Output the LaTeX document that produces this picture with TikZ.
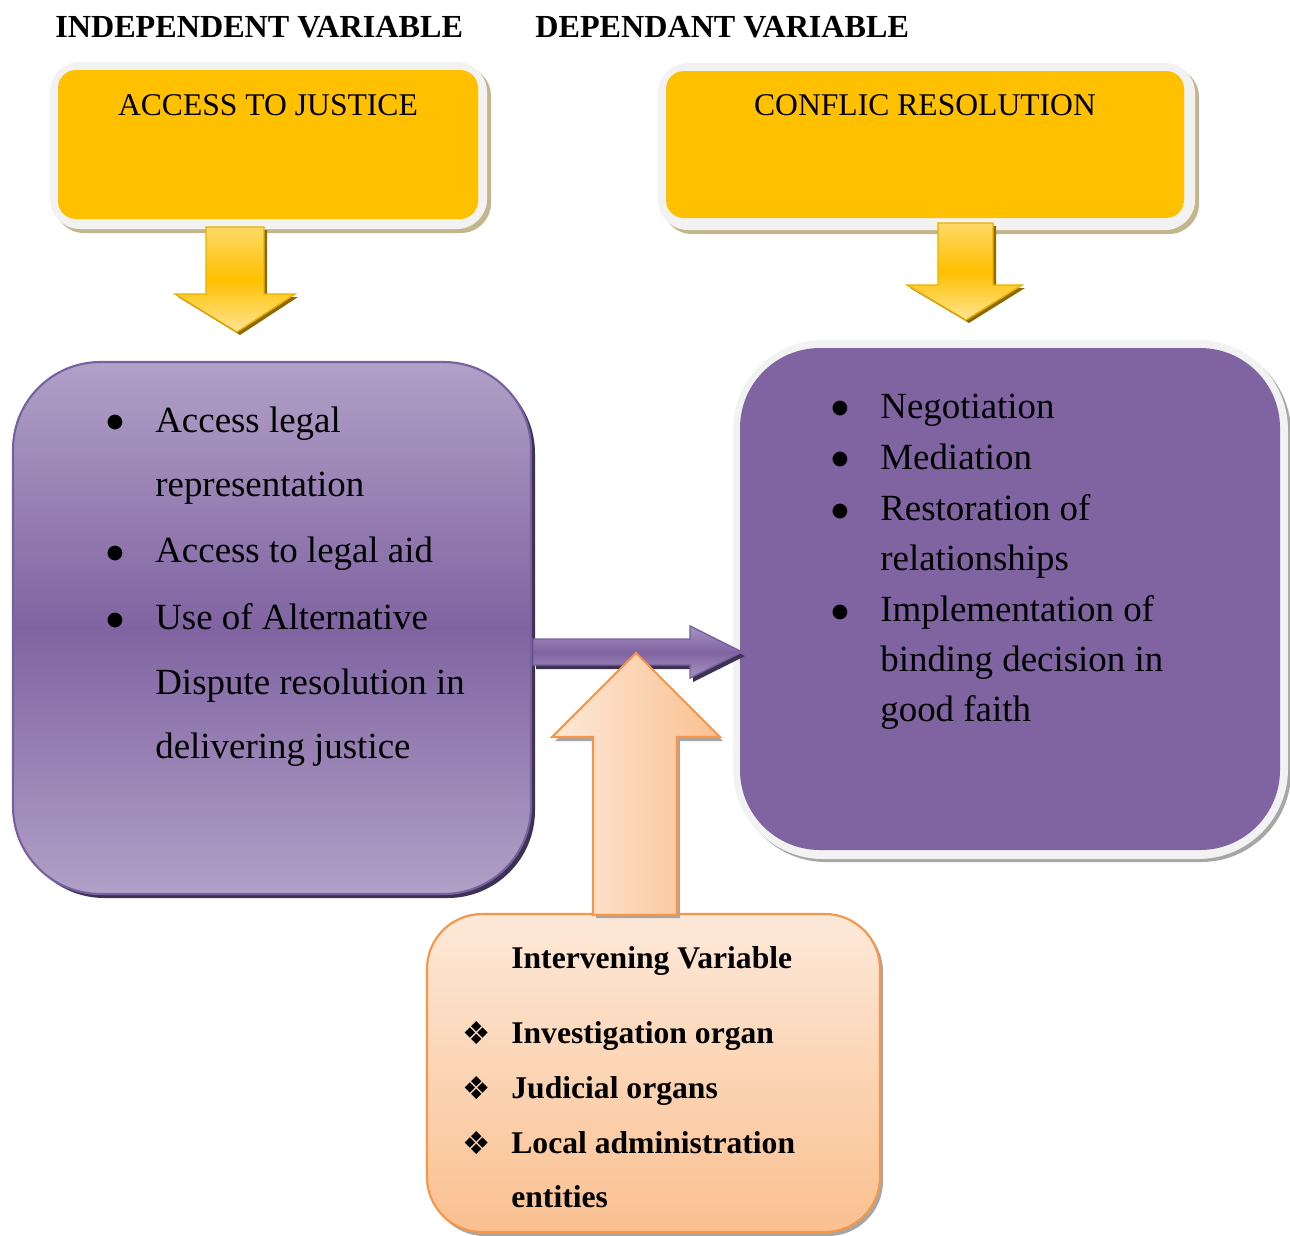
\documentclass[tikz,border=0pt]{standalone}
\usepackage{fontspec}
\setmainfont{Liberation Serif}
\newfontfamily\symfont{DejaVu Sans}
\usetikzlibrary{fit}
\definecolor{ybox}{HTML}{FFC000}
\definecolor{ylight}{HTML}{FFD966}
\definecolor{yedge}{HTML}{E8B000}
\definecolor{yshadow}{HTML}{8C6A00}
\definecolor{frame}{HTML}{F2F2F2}
\definecolor{tan}{HTML}{C4B68C}
\definecolor{purp}{HTML}{8064A2}
\definecolor{lpurp}{HTML}{B1A0C7}
\definecolor{purpedge}{HTML}{7560A0}
\definecolor{dpurp}{HTML}{3F3151}
\definecolor{peachl}{HTML}{FDE9D9}
\definecolor{peachd}{HTML}{FAC090}
\definecolor{orng}{HTML}{F79646}
\definecolor{gshadow}{HTML}{A6A6A6}
\begin{document}
\begin{tikzpicture}[x=0.02cm,y=-0.02cm,
  box/.style={inner sep=0pt,outer sep=0pt},
  title/.style={font=\fontsize{18.3}{21}\selectfont\bfseries,anchor=base west,inner sep=0pt},
  ylabel/.style={font=\fontsize{18}{21}\selectfont,anchor=base,inner sep=0pt},
  ptext/.style={font=\fontsize{21}{25}\selectfont,anchor=base west,inner sep=0pt},
  pbul/.style={font=\symfont\fontsize{11}{13}\selectfont,anchor=base,inner sep=0pt},
  itext/.style={font=\fontsize{18}{21}\selectfont\bfseries,anchor=base west,inner sep=0pt},
  ibul/.style={font=\symfont\fontsize{18}{21}\selectfont,anchor=base,inner sep=0pt},
  yarrow/.style={top color=ylight,bottom color=ylight!70!white,middle color=ybox,draw=yedge,line width=0.8pt},
]
\useasboundingbox (0,0) rectangle (1290,1235);

% titles
\node[title] (tind) at (55,37) {INDEPENDENT VARIABLE};
\node[title] (tdep) at (535,37) {DEPENDANT VARIABLE};

% top-left yellow box
\node[box,fit={(54,66)(491,233)},fill=tan,rounded corners=0.6cm] (ajsh) {};
\node[box,fit={(50,62)(487,229)},fill=frame,rounded corners=0.6cm] (ajout) {};
\node[box,fit={(58,70)(478,219)},fill=ybox,rounded corners=0.36cm] (aj) {};
\node[ylabel] (ajl) at (268,115) {ACCESS TO JUSTICE};

% top-right yellow box
\node[box,fit={(662,67)(1199,234)},fill=tan,rounded corners=0.6cm] (crsh) {};
\node[box,fit={(658,63)(1195,230)},fill=frame,rounded corners=0.6cm] (crout) {};
\node[box,fit={(666,71)(1184,218)},fill=ybox,rounded corners=0.36cm] (cr) {};
\node[ylabel] (crl) at (925,115) {CONFLIC RESOLUTION};

% yellow down arrows
\fill[yshadow] (209,230) -- (267,230) -- (267,297) -- (298,297) -- (240,335) -- (178,297) -- (209,297) -- cycle;
\path[yarrow] (206,227) -- (264,227) -- (264,294) -- (295,294) -- (237,332) -- (175,294) -- (206,294) -- cycle;
\fill[yshadow] (941,226) -- (996,226) -- (996,288) -- (1025,288) -- (969,323) -- (910,288) -- (941,288) -- cycle;
\path[yarrow] (938,223) -- (993,223) -- (993,285) -- (1022,285) -- (966,320) -- (907,285) -- (938,285) -- cycle;

% left purple box
\node[box,fit={(17,366)(535,898)},fill=dpurp,rounded corners=1.75cm] (ajbsh) {};
\node[box,fit={(13,362)(531,894)},top color=lpurp,bottom color=lpurp,middle color=purp,draw=purpedge,line width=1.2pt,rounded corners=1.75cm] (ajb) {};
\node[pbul] (lb1) at (115,427) {●};
\node[ptext] (l1) at (155,432) {Access legal};
\node[ptext] (l2) at (155,496) {representation};
\node[pbul] (lb2) at (115,558) {●};
\node[ptext] (l3) at (155,562) {Access to legal aid};
\node[pbul] (lb3) at (115,625) {●};
\node[ptext] (l4) at (155,629) {Use of Alternative};
\node[ptext] (l5) at (155,694) {Dispute resolution in};
\node[ptext] (l6) at (155,758) {delivering justice};

% right purple box
\node[box,fit={(736,343)(1291,862)},fill=gshadow,rounded corners=1.8cm] (crbsh) {};
\node[box,fit={(733,340)(1288,859)},fill=frame,rounded corners=1.8cm] (crbout) {};
\node[box,fit={(740,348)(1280,850)},fill=purp,rounded corners=1.6cm] (crb) {};
\node[pbul] (rb1) at (840,413) {●};
\node[ptext] (r1) at (880,418) {Negotiation};
\node[pbul] (rb2) at (840,464) {●};
\node[ptext] (r2) at (880,469) {Mediation};
\node[pbul] (rb3) at (840,516) {●};
\node[ptext] (r3) at (880,520) {Restoration of};
\node[ptext] (r4) at (880,570) {relationships};
\node[pbul] (rb4) at (840,617) {●};
\node[ptext] (r5) at (880,621) {Implementation of};
\node[ptext] (r6) at (880,671) {binding decision in};
\node[ptext] (r7) at (880,721) {good faith};

% purple horizontal arrow
\fill[dpurp] (536,643) -- (693,643) -- (693,630) -- (745,656) -- (693,682) -- (693,669) -- (536,669) -- cycle;
\path[top color=lpurp!80!purp,bottom color=lpurp!80!purp,middle color=purp,draw=purpedge,line width=0.8pt]
  (533,639) -- (690,639) -- (690,626) -- (742,652) -- (690,678) -- (690,665) -- (533,665) -- cycle;

% bottom box
\node[box,fit={(430,917)(883,1236)},fill=gshadow,rounded corners=1.1cm] (ivsh) {};
\node[box,fit={(427,914)(880,1232)},top color=peachl,bottom color=peachd,draw=orng,line width=1.2pt,rounded corners=1.1cm] (iv) {};
\node[itext] (ivt) at (511,968) {Intervening Variable};
\node[ibul] (ib1) at (477,1044) {❖};
\node[itext] (i1) at (511,1043) {Investigation organ};
\node[ibul] (ib2) at (477,1099) {❖};
\node[itext] (i2) at (511,1098) {Judicial organs};
\node[ibul] (ib3) at (477,1154) {❖};
\node[itext] (i3) at (511,1153) {Local administration};
\node[itext] (i4) at (511,1207) {entities};

% orange up arrow
\fill[gshadow] (639,657) -- (723,741) -- (680,741) -- (680,918) -- (596,918) -- (596,741) -- (555,741) -- cycle;
\path[left color=peachl,right color=peachd,draw=orng,line width=1.2pt]
  (636,653) -- (720,737) -- (677,737) -- (677,915) -- (593,915) -- (593,737) -- (552,737) -- cycle;
\end{tikzpicture}
\end{document}
